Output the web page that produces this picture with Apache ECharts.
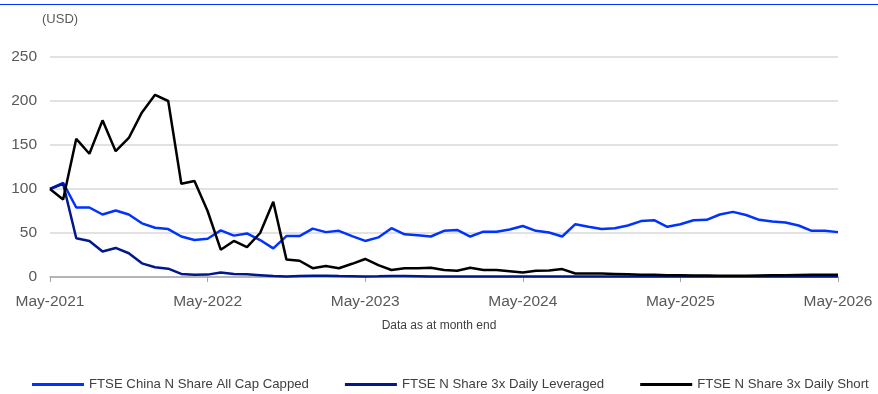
<!DOCTYPE html>
<html>
<head>
<meta charset="utf-8">
<script src="https://cdn.jsdelivr.net/npm/echarts@6/dist/echarts.min.js"></script>
<style>
  html, body { margin: 0; padding: 0; background: #fff; }
  #chart { width: 878px; height: 394px; }
</style>
</head>
<body>
<div id="chart"></div>
<script>
// 月份 (May-2021 .. May-2026)
const monthNames = ['Jan','Feb','Mar','Apr','May','Jun','Jul','Aug','Sep','Oct','Nov','Dec']
const months = []
for (let i = 0; i < 61; i++) {
  const m = (4 + i) % 12
  const y = 2021 + Math.floor((4 + i) / 12)
  months.push(monthNames[m] + '-' + y)
}

const seriesNames = [
  'FTSE China N Share All Cap Capped',
  'FTSE N Share 3x Daily Leveraged',
  'FTSE N Share 3x Daily Short'
]

const chinaAllCap = [
  100, 107, 79, 79, 71, 75.5, 71, 61, 56, 54.5,
  46, 42, 43.5, 53, 47, 49.5, 42, 32.5, 46.5, 46.5,
  55, 51, 52.5, 46.5, 41, 45, 55.5, 48.5, 47.5, 46,
  52.5, 53.5, 46, 51.5, 51.5, 54, 58, 52.5, 50.5, 46,
  60, 57, 54.5, 55.3, 58.5, 63.5, 64.5, 57, 60, 64.5,
  65, 71, 74, 70.5, 65, 63, 62, 58.5, 52.5, 52.5,
  51
]

const leveraged3x = [
  100, 106, 44, 41, 29, 33, 27, 15.5, 11, 9.5,
  3.5, 2.5, 2.7, 5, 3.5, 3, 2, 1, 0.5, 1,
  1.5, 1.5, 1, 0.8, 0.6, 0.8, 1.2, 1, 0.8, 0.6,
  0.5, 0.6, 0.5, 0.5, 0.6, 0.5, 0.5, 0.6, 0.5, 0.5,
  0.6, 0.5, 0.5, 0.5, 0.5, 0.6, 0.5, 0.5, 0.5, 0.5,
  0.5, 0.5, 0.6, 0.5, 0.5, 0.5, 0.5, 0.6, 0.6, 0.7,
  0.7
]

const short3x = [
  100, 88, 157, 140, 178, 143, 158, 187, 207, 200,
  106, 109, 75, 31, 41, 34, 50, 85.5, 20, 18.5,
  10, 12.5, 10, 15, 20.5, 13.5, 8, 10, 10, 10.5,
  8, 7, 10.5, 8, 8, 6.5, 5, 7, 7.5, 9,
  4, 4, 4, 3.5, 3, 2.5, 2.5, 2, 2, 1.8,
  1.8, 1.5, 1.5, 1.5, 1.8, 2, 2, 2.3, 2.5, 2.5,
  2.5
]

const colors = ['#0033ff', '#00188f', '#000000']
const font = 'Liberation Sans, Arial, sans-serif'

const chart = echarts.init(document.getElementById('chart'))

const option = {
  animation: false,
  color: colors,
  textStyle: { fontFamily: font },
  grid: {
    left: 50,
    right: 40,
    top: 57,
    bottom: 117
  },
  legend: {
    left: 32,
    top: 378,
    width: 846,
    padding: 0,
    itemGap: 36,
    itemWidth: 52,
    itemHeight: 3,
    icon: 'rect',
    textStyle: { fontSize: 13.2, color: '#404040', fontFamily: font },
    data: seriesNames
  },
  xAxis: {
    type: 'category',
    data: months,
    boundaryGap: false,
    axisLine: { lineStyle: { color: '#a6a6a6', width: 1.5 } },
    axisTick: { interval: 11, length: 5, lineStyle: { color: '#a6a6a6' } },
    axisLabel: {
      interval: 11,
      fontSize: 15.5,
      color: '#595959',
      margin: 17,
      fontFamily: font
    },
    splitLine: { show: false }
  },
  yAxis: {
    type: 'value',
    min: 0,
    max: 250,
    interval: 50,
    axisLine: { show: false },
    axisTick: { show: false },
    axisLabel: { fontSize: 15.5, color: '#595959', margin: 13, fontFamily: font },
    splitLine: { lineStyle: { color: '#d9d9d9', width: 1.5 } }
  },
  graphic: [
    // 顶部蓝线
    {
      type: 'line',
      shape: { x1: 0, y1: 4.5, x2: 878, y2: 4.5 },
      style: { stroke: '#0033ff', lineWidth: 1.2 }
    },
    {
      type: 'text',
      left: 42,
      top: 13,
      style: { text: '(USD)', fontSize: 13, fill: '#595959', fontFamily: font }
    },
    {
      type: 'text',
      left: 'center',
      top: 320,
      style: { text: 'Data as at month end', fontSize: 12, fill: '#404040', fontFamily: font }
    }
  ],
  series: [
    {
      name: seriesNames[0],
      type: 'line',
      data: chinaAllCap,
      symbol: 'none',
      lineStyle: { width: 2.5, color: colors[0] }
    },
    {
      name: seriesNames[1],
      type: 'line',
      data: leveraged3x,
      symbol: 'none',
      lineStyle: { width: 2.5, color: colors[1] }
    },
    {
      name: seriesNames[2],
      type: 'line',
      data: short3x,
      symbol: 'none',
      lineStyle: { width: 2.5, color: colors[2] }
    }
  ]
}

chart.setOption(option)
</script>
</body>
</html>
